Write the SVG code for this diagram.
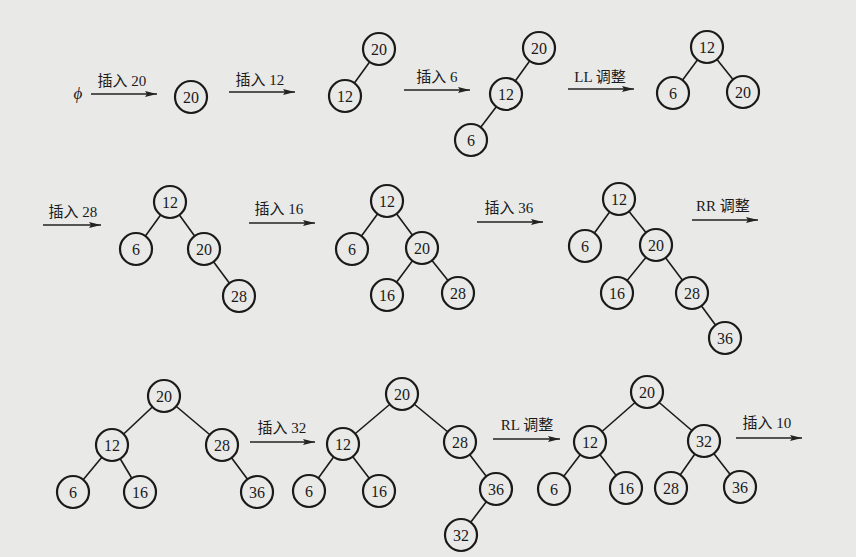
<svg xmlns="http://www.w3.org/2000/svg" width="856" height="557" viewBox="0 0 856 557">
<defs>
<marker id="ah" viewBox="0 0 12 6" refX="12" refY="3" markerWidth="12" markerHeight="6" markerUnits="userSpaceOnUse" orient="auto">
<path d="M0,0 L12,3 L0,6 L2,3 Z" fill="#222"/>
</marker>
</defs>
<style>
.bg{fill:#e9e9e7}
.n circle{fill:#e9e9e7;stroke:#1a1a1a;stroke-width:2.2}
.n text{font-family:"Liberation Serif","Noto Sans CJK SC",serif;font-size:16px;fill:#1a1a1a;text-anchor:middle;dominant-baseline:central}
.e line{stroke:#1a1a1a;stroke-width:1.6}
.a line{stroke:#222;stroke-width:1.6;marker-end:url(#ah)}
.lbl{font-family:"Liberation Serif","Noto Sans CJK SC",serif;font-size:15px;fill:#1a1a1a;text-anchor:middle}
</style>
<rect class="bg" x="0" y="0" width="856" height="557"/>

<g id="connectors">
<g class="a">
<line x1="91" y1="94" x2="157" y2="94"/>
<line x1="229" y1="92" x2="295" y2="92"/>
<line x1="404" y1="90" x2="470" y2="90"/>
<line x1="568" y1="89" x2="634" y2="89"/>
<line x1="43" y1="225" x2="101" y2="225"/>
<line x1="249" y1="223" x2="315" y2="223"/>
<line x1="477" y1="222" x2="543" y2="222"/>
<line x1="692" y1="220" x2="758" y2="220"/>
<line x1="250" y1="442" x2="315" y2="442"/>
<line x1="493" y1="439" x2="560" y2="439"/>
<line x1="736" y1="438" x2="802" y2="438"/>
</g>
<g class="e">
<!-- tree 3 -->
<line x1="379" y1="49" x2="345" y2="96"/>
<!-- tree 4 -->
<line x1="539" y1="48" x2="506" y2="94"/>
<line x1="506" y1="94" x2="471" y2="140"/>
<!-- tree 5 -->
<line x1="707" y1="47" x2="673" y2="93"/>
<line x1="707" y1="47" x2="743" y2="92"/>
<!-- tree 6 -->
<line x1="170" y1="202" x2="136" y2="249"/>
<line x1="170" y1="202" x2="204" y2="249"/>
<line x1="204" y1="249" x2="239" y2="296"/>
<!-- tree 7 -->
<line x1="387" y1="201" x2="352" y2="249"/>
<line x1="387" y1="201" x2="422" y2="248"/>
<line x1="422" y1="248" x2="387" y2="295"/>
<line x1="422" y1="248" x2="458" y2="293"/>
<!-- tree 8 -->
<line x1="619" y1="199" x2="585" y2="246"/>
<line x1="619" y1="199" x2="656" y2="245"/>
<line x1="656" y1="245" x2="617" y2="293"/>
<line x1="656" y1="245" x2="692" y2="293"/>
<line x1="692" y1="293" x2="725" y2="338"/>
<!-- tree 9 -->
<line x1="164" y1="396" x2="112" y2="445"/>
<line x1="164" y1="396" x2="222" y2="445"/>
<line x1="112" y1="445" x2="73" y2="492"/>
<line x1="112" y1="445" x2="140" y2="492"/>
<line x1="222" y1="445" x2="257" y2="492"/>
<!-- tree 10 -->
<line x1="402" y1="394" x2="343" y2="444"/>
<line x1="402" y1="394" x2="460" y2="442"/>
<line x1="343" y1="444" x2="309" y2="491"/>
<line x1="343" y1="444" x2="379" y2="491"/>
<line x1="460" y1="442" x2="496" y2="489"/>
<line x1="496" y1="489" x2="461" y2="535"/>
<!-- tree 11 -->
<line x1="647" y1="392" x2="590" y2="442"/>
<line x1="647" y1="392" x2="704" y2="441"/>
<line x1="590" y1="442" x2="554" y2="489"/>
<line x1="590" y1="442" x2="626" y2="488"/>
<line x1="704" y1="441" x2="671" y2="488"/>
<line x1="704" y1="441" x2="740" y2="487"/>
</g>
</g>

<g id="labels">
<text x="78" y="99" style="font-family:'Liberation Serif',serif;font-size:17px;font-style:italic;fill:#1a1a1a;text-anchor:middle">ϕ</text>
<text class="lbl" x="122" y="86">插入 20</text>
<text class="lbl" x="260" y="85">插入 12</text>
<text class="lbl" x="437" y="82">插入 6</text>
<text class="lbl" x="600" y="82">LL 调整</text>
<text class="lbl" x="73" y="217">插入 28</text>
<text class="lbl" x="279" y="214">插入 16</text>
<text class="lbl" x="509" y="213">插入 36</text>
<text class="lbl" x="723" y="211">RR 调整</text>
<text class="lbl" x="282" y="433">插入 32</text>
<text class="lbl" x="527" y="430">RL 调整</text>
<text class="lbl" x="767" y="428">插入 10</text>
</g>

<g id="t2-20" class="n"><circle cx="191" cy="97" r="16"/><text x="191" y="97">20</text></g>

<g id="t3-20" class="n"><circle cx="379" cy="49" r="16"/><text x="379" y="49">20</text></g>
<g id="t3-12" class="n"><circle cx="345" cy="96" r="16"/><text x="345" y="96">12</text></g>

<g id="t4-20" class="n"><circle cx="539" cy="48" r="16"/><text x="539" y="48">20</text></g>
<g id="t4-12" class="n"><circle cx="506" cy="94" r="16"/><text x="506" y="94">12</text></g>
<g id="t4-6" class="n"><circle cx="471" cy="140" r="16"/><text x="471" y="140">6</text></g>

<g id="t5-12" class="n"><circle cx="707" cy="47" r="16"/><text x="707" y="47">12</text></g>
<g id="t5-6" class="n"><circle cx="673" cy="93" r="16"/><text x="673" y="93">6</text></g>
<g id="t5-20" class="n"><circle cx="743" cy="92" r="16"/><text x="743" y="92">20</text></g>

<g id="t6-12" class="n"><circle cx="170" cy="202" r="16"/><text x="170" y="202">12</text></g>
<g id="t6-6" class="n"><circle cx="136" cy="249" r="16"/><text x="136" y="249">6</text></g>
<g id="t6-20" class="n"><circle cx="204" cy="249" r="16"/><text x="204" y="249">20</text></g>
<g id="t6-28" class="n"><circle cx="239" cy="296" r="16"/><text x="239" y="296">28</text></g>

<g id="t7-12" class="n"><circle cx="387" cy="201" r="16"/><text x="387" y="201">12</text></g>
<g id="t7-6" class="n"><circle cx="352" cy="249" r="16"/><text x="352" y="249">6</text></g>
<g id="t7-20" class="n"><circle cx="422" cy="248" r="16"/><text x="422" y="248">20</text></g>
<g id="t7-16" class="n"><circle cx="387" cy="295" r="16"/><text x="387" y="295">16</text></g>
<g id="t7-28" class="n"><circle cx="458" cy="293" r="16"/><text x="458" y="293">28</text></g>

<g id="t8-12" class="n"><circle cx="619" cy="199" r="16"/><text x="619" y="199">12</text></g>
<g id="t8-6" class="n"><circle cx="585" cy="246" r="16"/><text x="585" y="246">6</text></g>
<g id="t8-20" class="n"><circle cx="656" cy="245" r="16"/><text x="656" y="245">20</text></g>
<g id="t8-16" class="n"><circle cx="617" cy="293" r="16"/><text x="617" y="293">16</text></g>
<g id="t8-28" class="n"><circle cx="692" cy="293" r="16"/><text x="692" y="293">28</text></g>
<g id="t8-36" class="n"><circle cx="725" cy="338" r="16"/><text x="725" y="338">36</text></g>

<g id="t9-20" class="n"><circle cx="164" cy="396" r="16"/><text x="164" y="396">20</text></g>
<g id="t9-12" class="n"><circle cx="112" cy="445" r="16"/><text x="112" y="445">12</text></g>
<g id="t9-28" class="n"><circle cx="222" cy="445" r="16"/><text x="222" y="445">28</text></g>
<g id="t9-6" class="n"><circle cx="73" cy="492" r="16"/><text x="73" y="492">6</text></g>
<g id="t9-16" class="n"><circle cx="140" cy="492" r="16"/><text x="140" y="492">16</text></g>
<g id="t9-36" class="n"><circle cx="257" cy="492" r="16"/><text x="257" y="492">36</text></g>

<g id="t10-20" class="n"><circle cx="402" cy="394" r="16"/><text x="402" y="394">20</text></g>
<g id="t10-12" class="n"><circle cx="343" cy="444" r="16"/><text x="343" y="444">12</text></g>
<g id="t10-28" class="n"><circle cx="460" cy="442" r="16"/><text x="460" y="442">28</text></g>
<g id="t10-6" class="n"><circle cx="309" cy="491" r="16"/><text x="309" y="491">6</text></g>
<g id="t10-16" class="n"><circle cx="379" cy="491" r="16"/><text x="379" y="491">16</text></g>
<g id="t10-36" class="n"><circle cx="496" cy="489" r="16"/><text x="496" y="489">36</text></g>
<g id="t10-32" class="n"><circle cx="461" cy="535" r="16"/><text x="461" y="535">32</text></g>

<g id="t11-20" class="n"><circle cx="647" cy="392" r="16"/><text x="647" y="392">20</text></g>
<g id="t11-12" class="n"><circle cx="590" cy="442" r="16"/><text x="590" y="442">12</text></g>
<g id="t11-32" class="n"><circle cx="704" cy="441" r="16"/><text x="704" y="441">32</text></g>
<g id="t11-6" class="n"><circle cx="554" cy="489" r="16"/><text x="554" y="489">6</text></g>
<g id="t11-16" class="n"><circle cx="626" cy="488" r="16"/><text x="626" y="488">16</text></g>
<g id="t11-28" class="n"><circle cx="671" cy="488" r="16"/><text x="671" y="488">28</text></g>
<g id="t11-36" class="n"><circle cx="740" cy="487" r="16"/><text x="740" y="487">36</text></g>
</svg>
